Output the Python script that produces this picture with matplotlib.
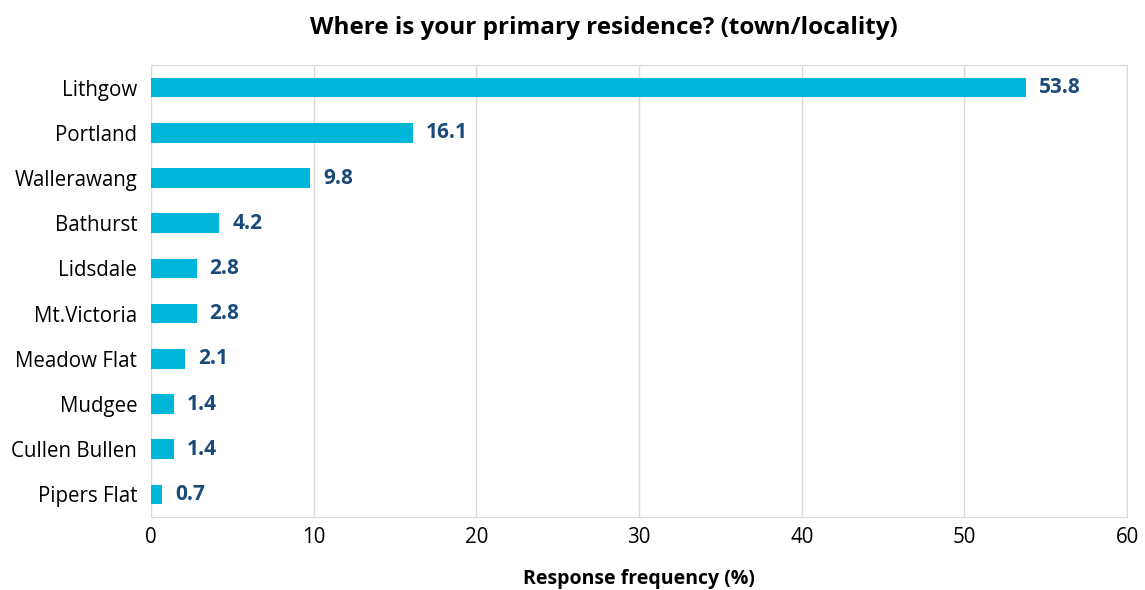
import matplotlib
matplotlib.use("Agg")
import matplotlib.pyplot as plt

plt.rcParams["font.family"] = ["Open Sans", "DejaVu Sans"]

# Data
towns = ["Lithgow", "Portland", "Wallerawang", "Bathurst", "Lidsdale",
         "Mt.Victoria", "Meadow Flat", "Mudgee", "Cullen Bullen", "Pipers Flat"]
pct = [53.8, 16.1, 9.8, 4.2, 2.8, 2.8, 2.1, 1.4, 1.4, 0.7]

BAR_COLOR = "#00B5DA"
LABEL_COLOR = "#1A4A7A"
GRID_COLOR = "#D9D9D9"

fig = plt.figure(figsize=(11.45, 5.9), dpi=100)
ax = fig.add_axes([0.1319, 0.1237, 0.8524, 0.7661])

ypos = list(range(len(towns)))
ax.barh(ypos, pct, height=0.43, color=BAR_COLOR, zorder=3)
for y, v in zip(ypos, pct):
    ax.text(v + 0.8, y, f"{v:.1f}", va="center", ha="left",
            fontsize=15, fontweight="bold", color=LABEL_COLOR)

ax.set_yticks(ypos)
ax.set_yticklabels(towns, fontsize=14.8)
ax.set_ylim(len(towns) - 0.5, -0.5)
ax.set_xlim(0, 60)
ax.set_xticks(range(0, 61, 10))
ax.tick_params(axis="x", labelsize=14.8, length=0, pad=7)
ax.tick_params(axis="y", length=0, pad=10)

ax.grid(axis="x", color=GRID_COLOR, linewidth=1, zorder=0)
for s in ax.spines.values():
    s.set_color(GRID_COLOR)

fig.text(0.558, 0.018, "Response frequency (%)", ha="center", va="center",
         fontsize=14, fontweight="bold")
fig.text(0.527, 0.953, "Where is your primary residence? (town/locality)",
         ha="center", va="center", fontsize=17.5, fontweight="bold")

fig.savefig("out.png", dpi=100)
